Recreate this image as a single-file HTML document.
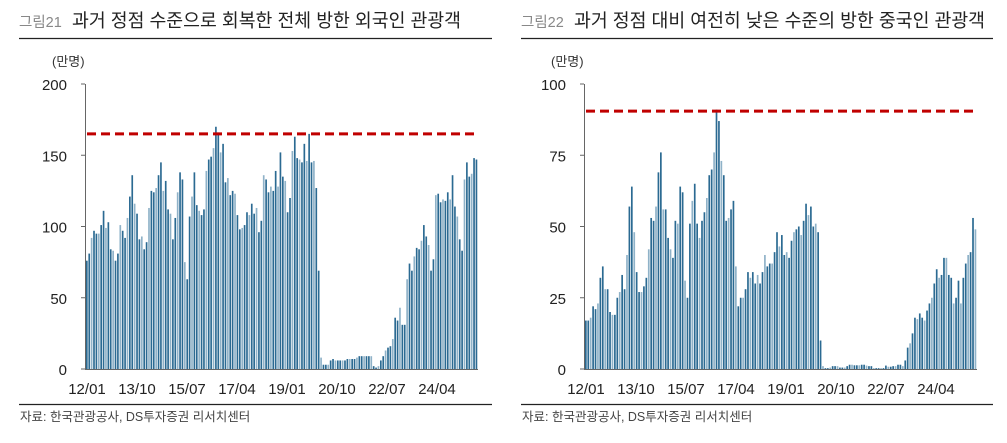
<!DOCTYPE html>
<html><head><meta charset="utf-8"><style>
body{margin:0;background:#fff;width:1007px;height:438px;overflow:hidden}
svg text{font-family:"Liberation Sans","Noto Sans CJK KR",sans-serif}
</style></head><body>
<svg id="s" width="1007" height="438" xmlns="http://www.w3.org/2000/svg"></svg>
<script>
const L=[76,81,92,97,95,95,101,111,99,103,84,83,76,81,101,97,92,106,121,136,116,109,91,93,84,89,113,125,124,127,136,145,125,132,112,109,91,106,124,138,133,75,63,107,121,138,115,111,108,112,139,147,149,155,170,166,152,158,131,134,122,125,123,108,98,99,101,110,108,116,109,113,96,104,136,133,124,128,125,139,128,152,135,132,110,120,153,163,148,147,145,158,146,165,145,146,127,69,8,3,3,3,6,7,6,6,6,6,6,7,7,7,7,8,9,9,9,9,9,9,2,1,2,6,9,13,15,16,21,36,34,43,31,31,63,74,69,79,85,84,90,101,93,87,69,77,122,123,117,119,118,124,119,136,114,107,91,83,133,145,135,137,148,147];
const R=[17,17,18,22,21,23,32,36,28,28,20,19,19,25,27,33,28,40,57,64,48,34,27,27,29,32,42,53,52,57,69,76,56,56,46,42,39,52,51,64,62,31,25,51,59,65,51,46,52,55,60,68,70,76,91,87,73,68,52,53,56,59,36,22,25,25,28,34,32,34,30,33,30,34,40,36,37,37,41,48,43,47,40,41,39,45,48,49,50,47,52,58,54,57,50,51,48,10,1,0.3,0.3,0.5,1,1,1,0.5,0.5,0.5,1,1.5,1.5,1.3,1.3,1.3,1.5,1.5,1.2,1,1,0.3,0.3,0.3,0.3,0.3,1.2,0.8,0.8,1,1,1.5,1.5,1,3,7.5,9,12.5,18,17.5,19.5,18,17,20.5,23,25,30,35,32,33,39,39,33,32,23,25,31,23,32,37,40,41,53,49];
let h='';
function chart(ox,lx1,lx2,title,num,data,max,ticks,ref,tl){
 h+=`<text x="${lx1}" y="27" font-size="14.5" fill="#888">${num}</text><text x="${lx1+53}" y="27" font-size="18.5" fill="#222" textLength="${tl}" lengthAdjust="spacingAndGlyphs">${title}</text>`;
 h+=`<line x1="${lx1}" y1="38.5" x2="${lx2}" y2="38.5" stroke="#222" stroke-width="1.2"/>`;
 h+=`<line x1="${lx1}" y1="404.5" x2="${lx2}" y2="404.5" stroke="#222" stroke-width="1.2"/>`;
 h+=`<text x="${lx1+1}" y="421" font-size="12.5" fill="#444">자료: 한국관광공사, DS투자증권 리서치센터</text>`;
 h+=`<text x="${ox-33}" y="66" font-size="13" fill="#333">(만명)</text>`;
 const y0=369,yt=84,ax=ox;
 ticks.forEach(t=>{const y=y0-(y0-yt)*t/max;h+=`<text x="${ax-18}" y="${y+6}" font-size="15" text-anchor="end" fill="#222">${t}</text><line x1="${ax-4}" y1="${y}" x2="${ax}" y2="${y}" stroke="#666"/>`});
 h+=`<line x1="${ax+0.5}" y1="${yt}" x2="${ax+0.5}" y2="${y0}" stroke="#666"/>`;
 const x0=ax+1,xe=ax+393,bw=(xe-x0)/data.length;
 data.forEach((v,i)=>{const bh=(y0-yt)*v/max;const c=(i%3==2)?'#8fb2c8':'#2b6a92';h+=`<rect x="${(x0+i*bw).toFixed(2)}" y="${(y0-bh).toFixed(2)}" width="${(bw*0.7).toFixed(2)}" height="${bh.toFixed(2)}" fill="${c}"/>`});
 h+=`<line x1="${ax}" y1="${y0+0.5}" x2="${xe}" y2="${y0+0.5}" stroke="#666"/>`;
 const ry=y0-(y0-yt)*ref/max;
 h+=`<line x1="${ax+2}" y1="${ry}" x2="${xe}" y2="${ry}" stroke="#c00000" stroke-width="3" stroke-dasharray="9,5"/>`;
 ['12/01','13/10','15/07','17/04','19/01','20/10','22/07','24/04'].forEach((l,i)=>{h+=`<text x="${ax+2+i*50}" y="394" font-size="15" text-anchor="middle" fill="#222">${l}</text>`});
}
chart(85,19,492,'과거 정점 수준으로 회복한 전체 방한 외국인 관광객','그림21',L,200,[0,50,100,150,200],165,389);
chart(584,521,993,'과거 정점 대비 여전히 낮은 수준의 방한 중국인 관광객','그림22',R,100,[0,25,50,75,100],90.5,411);
document.getElementById('s').innerHTML=h;
</script>
</body></html>
